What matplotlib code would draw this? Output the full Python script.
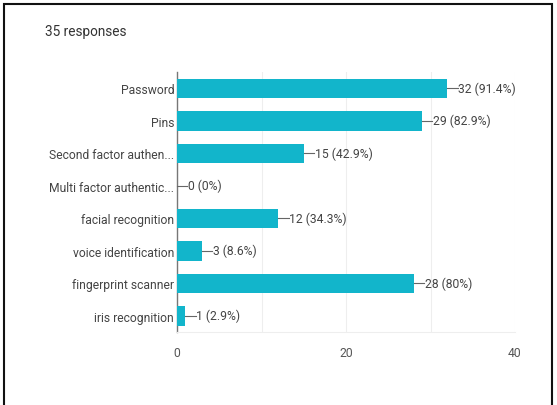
import matplotlib.pyplot as plt
from matplotlib.patches import Rectangle

# Data
categories = ['Password', 'Pins', 'Second factor authen...', 'Multi factor authentic...',
              'facial recognition', 'voice identification', 'fingerprint scanner',
              'iris recognition']
counts = [32, 29, 15, 0, 12, 3, 28, 1]
percents = ['91.4%', '82.9%', '42.9%', '0%', '34.3%', '8.6%', '80%', '2.9%']
xticks = [0, 20, 40]

plt.rcParams['font.family'] = ['Roboto', 'DejaVu Sans']

fig = plt.figure(figsize=(5.57, 4.06), dpi=100)
ax = fig.add_axes([177 / 557, 1 - 333 / 406, (515 - 177) / 557, (333 - 73) / 406])

ypos = list(range(len(categories)))
ax.barh(ypos, counts, height=0.6, color='#12b5cb', zorder=3)
ax.set_ylim(len(categories) - 0.5, -0.5)
ax.set_xlim(0, 40)

# value labels with the small leader line
for y, c, p in zip(ypos, counts, percents):
    ax.plot([c, c + 1.2], [y, y], color='#666666', lw=0.8, zorder=4, clip_on=False)
    ax.text(c + 1.3, y, f'{c} ({p})', va='center', ha='left', fontsize=8.7,
            color='#444444', zorder=4)

ax.set_yticks(ypos)
ax.set_yticklabels(categories, fontsize=8.7, color='#444444')
ax.set_xticks(xticks)
ax.set_xticklabels([str(t) for t in xticks], fontsize=8.7, color='#555555')
ax.tick_params(axis='y', length=0, pad=2)
ax.tick_params(axis='x', length=0, pad=10)

ax.set_xticks([10, 30], minor=True)
ax.tick_params(axis='x', which='minor', length=0)
ax.grid(axis='x', which='both', color='#eeeeee', lw=0.8, zorder=0)

for s in ['top', 'right']:
    ax.spines[s].set_visible(False)
ax.spines['bottom'].set_color('#eeeeee')
ax.spines['left'].set_color('#777777')
ax.spines['left'].set_linewidth(1.0)

fig.text(45 / 557, 1 - 32 / 406, '35 responses', fontsize=9.8, color='#333333',
         va='center', ha='left')

# outer frame of the screenshot
fig.patches.append(Rectangle((4 / 557, -0.01), 548 / 557, 1 - 5 / 406 + 0.01,
                             transform=fig.transFigure, fill=False,
                             edgecolor='#111111', lw=1.5))

fig.savefig('out.png', dpi=100)
